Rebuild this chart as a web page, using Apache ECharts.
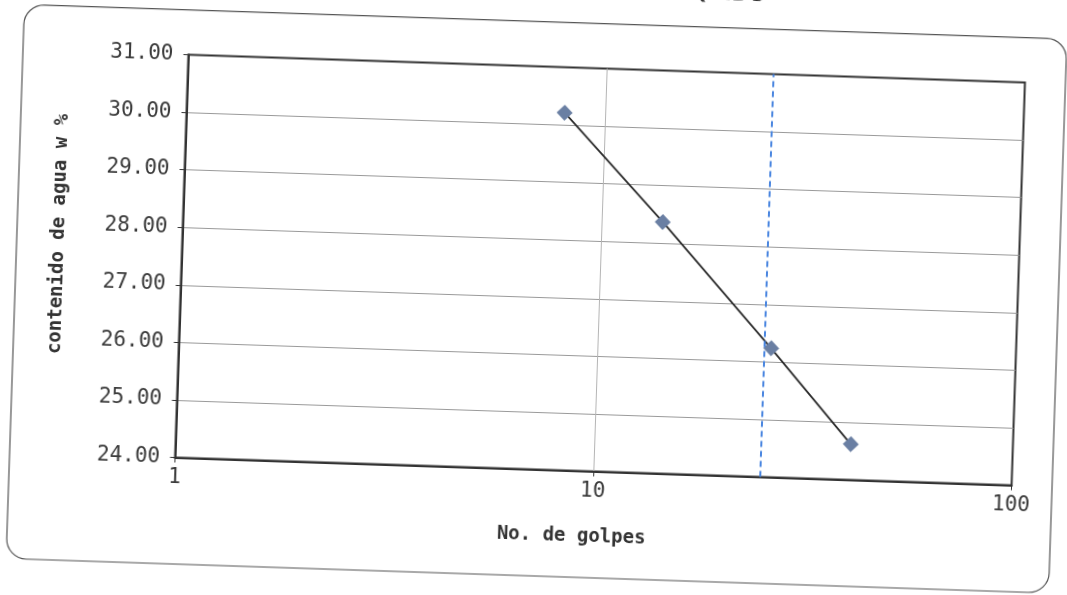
<!DOCTYPE html>
<html>
<head>
<meta charset="utf-8">
<script src="https://cdn.jsdelivr.net/npm/echarts@6/dist/echarts.min.js"></script>
<style>
  html, body { margin: 0; padding: 0; background: #ffffff; overflow: hidden; width: 1067px; height: 595px; }
  #wrap { position: absolute; left: -20px; top: -20px; width: 1110px; height: 640px;
          transform: rotate(1.9deg); transform-origin: 620px 290px; }
</style>
</head>
<body>
<div id="wrap"></div>
<script>
// ---- data ----
const chartTitle = 'LÍMITE LÍQUIDO';
const xAxisName = 'No. de golpes';
const yAxisName = 'contenido de agua w %';
const blows = [8, 14, 26, 41];                 // No. de golpes
const waterContent = [30.21, 28.37, 26.24, 24.62]; // contenido de agua w %
const liquidLimitBlows = 25;                   // vertical dashed reference
const yMin = 24, yMax = 31, yStep = 1;
const xMin = 1, xMax = 100;

const points = blows.map((b, i) => [b, waterContent[i]]);
const mono = '"DejaVu Sans Mono", monospace';

const chart = echarts.init(document.getElementById('wrap'), null, { renderer: 'canvas' });
chart.setOption({
  backgroundColor: 'transparent',
  animation: false,
  graphic: [
    { type: 'rect', silent: true, z: -1,
      shape: { x: 36, y: 43.6, width: 1043, height: 554.4, r: 20 },
      style: { fill: 'none', stroke: '#555', lineWidth: 1.2 } },
    { type: 'text', silent: true, x: 688, y: 0.5,
      style: { text: chartTitle, font: 'bold 20px "DejaVu Sans", sans-serif', fill: '#333',
               textAlign: 'center', textVerticalAlign: 'top' } }
  ],
  grid: { left: 201.5, top: 88.5, width: 837, height: 403, show: true,
          borderColor: '#333', borderWidth: 2, backgroundColor: 'transparent' },
  xAxis: {
    type: 'log', logBase: 10, min: xMin, max: xMax,
    name: xAxisName, nameLocation: 'middle', nameGap: 56,
    nameTextStyle: { fontFamily: mono, fontWeight: 'bold', fontSize: 19, color: '#333', padding: [0, 40, 0, 0] },
    axisLine: { show: true, lineStyle: { color: '#333', width: 2 } },
    axisTick: { show: true, length: 5, lineStyle: { color: '#333', width: 1 } },
    axisLabel: { fontFamily: mono, fontSize: 21, color: '#3a3a3a', margin: 10 },
    splitLine: { show: true, showMinLine: false, showMaxLine: false, lineStyle: { color: '#b5b5b5', width: 1 } }
  },
  yAxis: {
    type: 'value', min: yMin, max: yMax, interval: yStep,
    name: yAxisName, nameLocation: 'middle', nameGap: 114,
    nameTextStyle: { fontFamily: mono, fontWeight: 'bold', fontSize: 19, color: '#333', padding: [0, 0, 0, 36] },
    axisLine: { show: true, lineStyle: { color: '#333', width: 2 } },
    axisTick: { show: true, length: 5, lineStyle: { color: '#333', width: 1 } },
    axisLabel: { fontFamily: mono, fontSize: 21, color: '#3a3a3a', margin: 15,
                 formatter: v => v.toFixed(2) },
    splitLine: { show: true, showMinLine: false, showMaxLine: false, lineStyle: { color: '#9a9a9a', width: 1 } }
  },
  series: [{
    type: 'line',
    data: points,
    symbol: 'diamond', symbolSize: 16,
    itemStyle: { color: '#6a7fa3' },
    lineStyle: { color: '#2a2a2a', width: 1.8 },
    z: 3,
    markLine: {
      silent: true, symbol: 'none', label: { show: false },
      lineStyle: { color: '#4a86e0', type: [6, 4], width: 2 },
      data: [{ xAxis: liquidLimitBlows }]
    }
  }]
});
</script>
</body>
</html>
